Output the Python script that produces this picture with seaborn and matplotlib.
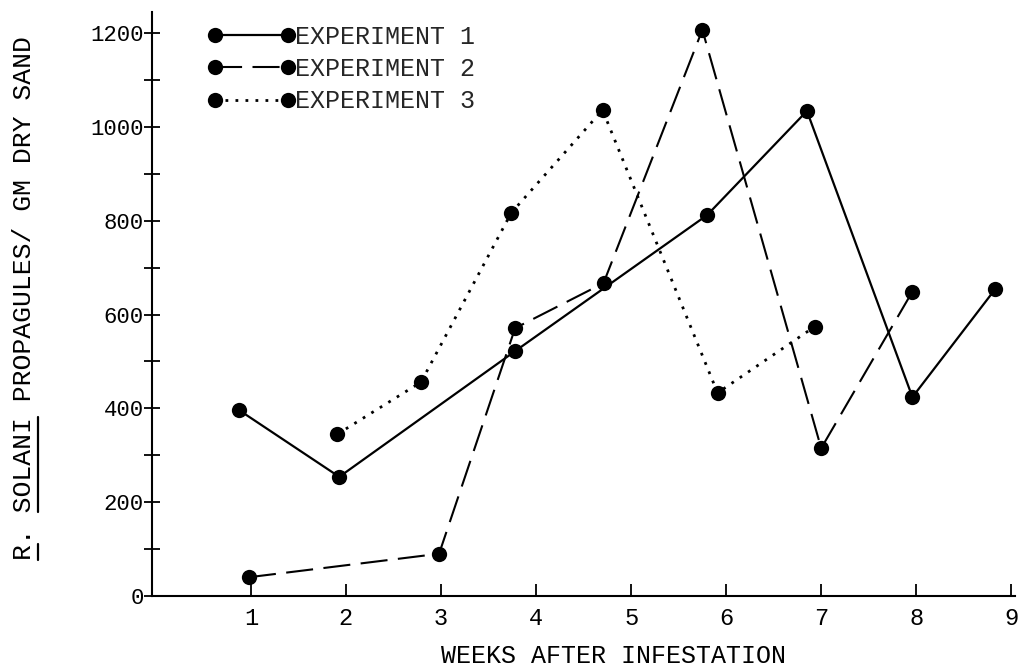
import numpy as np
import pandas as pd
import matplotlib
matplotlib.use("Agg")
import matplotlib.pyplot as plt
from matplotlib.lines import Line2D
from matplotlib.legend_handler import HandlerLine2D
import seaborn as sns

# Weeks after infestation at which each sample was taken
weeks_exp1 = [0.87, 1.93, 3.78, 5.80, 6.85, 7.96, 8.83]
weeks_exp2 = [0.98, 2.98, 3.78, 4.71, 5.75, 7.00, 7.96]
weeks_exp3 = [1.91, 2.79, 3.74, 4.70, 5.91, 6.93]

# Propagules per gram of dry sand
propagules_exp1 = [397, 254, 522, 812, 1034, 424, 654]
propagules_exp2 = [40, 90, 571, 667, 1207, 315, 649]
propagules_exp3 = [345, 456, 817, 1036, 433, 574]

series_names = ["EXPERIMENT 1", "EXPERIMENT 2", "EXPERIMENT 3"]
x_ticks = [1, 2, 3, 4, 5, 6, 7, 8, 9]
y_ticks = [0, 200, 400, 600, 800, 1000, 1200]
y_minor_ticks = [100, 300, 500, 700, 900, 1100]
y_label = "R. SOLANI PROPAGULES/ GM DRY SAND"

sns.set_style("ticks")
plt.rcParams["font.family"] = ["Liberation Mono", "DejaVu Sans Mono"]

frames = []
for name, wk, val in zip(series_names,
                         [weeks_exp1, weeks_exp2, weeks_exp3],
                         [propagules_exp1, propagules_exp2, propagules_exp3]):
    frames.append(pd.DataFrame({"week": wk, "propagules": val, "series": name}))
data = pd.concat(frames, ignore_index=True)

styles = {
    "EXPERIMENT 1": dict(linestyle="-", linewidth=1.6),
    "EXPERIMENT 2": dict(linestyle=(0, (13, 5)), linewidth=1.5),
    "EXPERIMENT 3": dict(linestyle=(0, (1, 2.6)), linewidth=2.0),
}

fig = plt.figure(figsize=(10.21, 6.71), dpi=100)
ax = fig.add_axes([0.1489, 0.1118, 0.8453, 0.8703])

for name in series_names:
    sub = data[data["series"] == name]
    sns.lineplot(data=sub, x="week", y="propagules", ax=ax, color="black",
                 marker="o", markersize=11, markeredgewidth=0,
                 sort=False, label=name, **styles[name])

ax.set_xlim(-0.04, 9.04)
ax.set_ylim(0, 1245)
ax.set_xticks(x_ticks)
ax.set_yticks(y_ticks)
ax.set_yticks(y_minor_ticks, minor=True)

for s in ["top", "right"]:
    ax.spines[s].set_visible(False)
for s in ["left", "bottom"]:
    ax.spines[s].set_linewidth(1.5)
    ax.spines[s].set_color("black")

ax.tick_params(axis="x", direction="in", length=9, width=1.3, pad=8,
               labelsize=17, colors="black")
ax.tick_params(axis="y", which="both", direction="inout", length=12,
               width=1.3, pad=0, labelsize=16, colors="black")

ax.set_xlabel("WEEKS AFTER INFESTATION", fontsize=18, color="black")
ax.xaxis.set_label_coords(0.535, -0.083)
ylab = ax.set_ylabel(y_label, fontsize=19, color="black")
ax.yaxis.set_label_coords(-0.135, 0.51)

handles, labels = ax.get_legend_handles_labels()
leg = ax.legend(handles, labels, loc="upper left",
                bbox_to_anchor=(0.2106, 0.963), bbox_transform=fig.transFigure,
                frameon=False, fontsize=18, numpoints=2, handlelength=2.9,
                handletextpad=0.3, labelspacing=0.33, borderpad=0,
                borderaxespad=0,
                handler_map={Line2D: HandlerLine2D(marker_pad=0, numpoints=2)})

# Underline the genus initial and species name in the rotated y label
fig.canvas.draw()
ext = ylab.get_window_extent()
step = ext.height / len(y_label)
ux = ext.x1 + 2
for start, stop in [(0, 1), (3, 9)]:
    y0 = ext.y0 + start * step
    y1 = ext.y0 + stop * step
    fig.add_artist(Line2D([ux, ux], [y0, y1], transform=None,
                          color="black", linewidth=1.6))

fig.savefig("out.png", dpi=100, facecolor="white")
